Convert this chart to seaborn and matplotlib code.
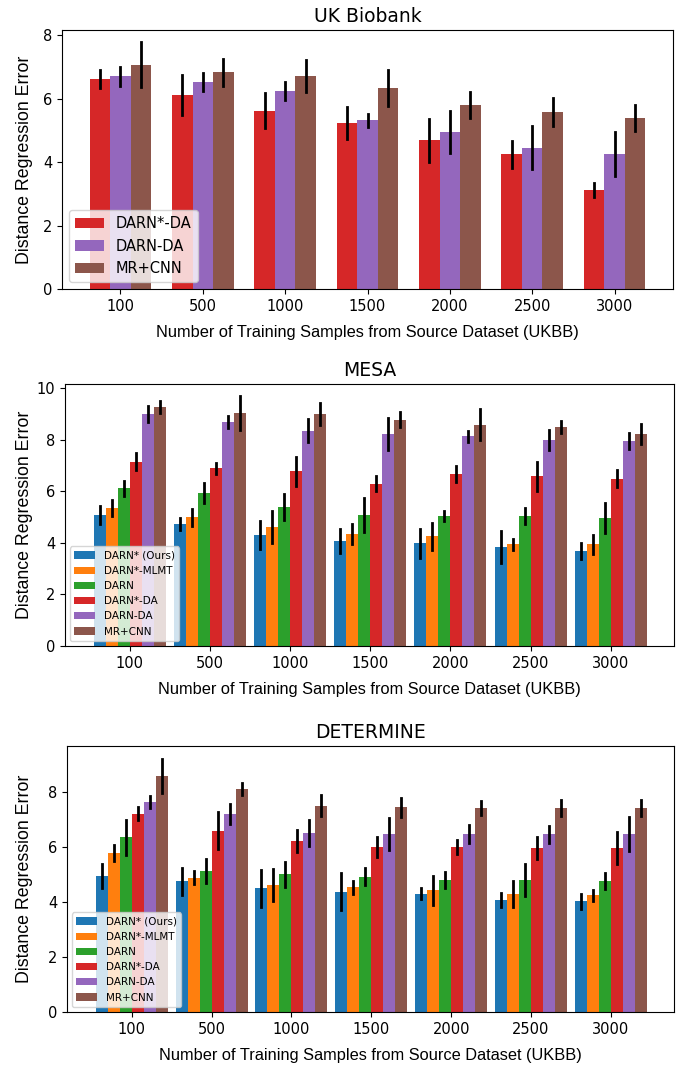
import numpy as np
import pandas as pd
import seaborn as sns
import matplotlib.pyplot as plt

# training set sizes (x axis categories)
n_samples = ["100", "500", "1000", "1500", "2000", "2500", "3000"]

methods_all = ["DARN* (Ours)", "DARN*-MLMT", "DARN", "DARN*-DA", "DARN-DA", "MR+CNN"]
methods_ukbb = ["DARN*-DA", "DARN-DA", "MR+CNN"]
colors_all = ["#1f77b4", "#ff7f0e", "#2ca02c", "#d62728", "#9467bd", "#8c564b"]
colors_ukbb = ["#d62728", "#9467bd", "#8c564b"]

# UK Biobank: rows = DARN*-DA, DARN-DA, MR+CNN
ukbb_mean = [
    [6.62, 6.10, 5.62, 5.24, 4.68, 4.24, 3.12],
    [6.70, 6.53, 6.24, 5.31, 4.94, 4.45, 4.25],
    [7.07, 6.83, 6.71, 6.34, 5.80, 5.57, 5.40],
]
ukbb_err = [
    [0.28, 0.63, 0.55, 0.50, 0.67, 0.42, 0.23],
    [0.29, 0.28, 0.28, 0.20, 0.67, 0.68, 0.69],
    [0.70, 0.43, 0.50, 0.57, 0.41, 0.45, 0.41],
]

# MESA: rows follow methods_all
mesa_mean = [
    [5.08, 4.74, 4.30, 4.07, 3.98, 3.84, 3.70],
    [5.35, 4.99, 4.61, 4.34, 4.25, 3.94, 3.94],
    [6.12, 5.94, 5.39, 5.08, 5.03, 5.03, 4.97],
    [7.14, 6.89, 6.77, 6.29, 6.66, 6.57, 6.48],
    [9.00, 8.67, 8.35, 8.22, 8.12, 7.99, 7.94],
    [9.27, 9.03, 9.00, 8.76, 8.58, 8.48, 8.22],
]
mesa_err = [
    [0.36, 0.23, 0.53, 0.47, 0.57, 0.62, 0.31],
    [0.32, 0.33, 0.62, 0.37, 0.52, 0.21, 0.36],
    [0.29, 0.39, 0.49, 0.67, 0.20, 0.32, 0.58],
    [0.33, 0.22, 0.57, 0.29, 0.31, 0.58, 0.33],
    [0.32, 0.23, 0.43, 0.62, 0.20, 0.38, 0.31],
    [0.23, 0.64, 0.43, 0.29, 0.61, 0.23, 0.38],
]

# DETERMINE: rows follow methods_all
det_mean = [
    [4.95, 4.77, 4.50, 4.38, 4.30, 4.08, 4.03],
    [5.80, 4.90, 4.64, 4.55, 4.43, 4.30, 4.25],
    [6.36, 5.15, 5.02, 4.93, 4.81, 4.81, 4.76],
    [7.22, 6.61, 6.23, 6.01, 6.01, 5.97, 5.97],
    [7.65, 7.21, 6.52, 6.48, 6.48, 6.48, 6.48],
    [8.60, 8.12, 7.51, 7.46, 7.43, 7.43, 7.43],
]
det_err = [
    [0.43, 0.49, 0.67, 0.68, 0.20, 0.26, 0.28],
    [0.30, 0.23, 0.58, 0.24, 0.53, 0.46, 0.21],
    [0.65, 0.44, 0.45, 0.32, 0.29, 0.58, 0.29],
    [0.24, 0.67, 0.40, 0.36, 0.27, 0.41, 0.57],
    [0.23, 0.36, 0.46, 0.58, 0.33, 0.31, 0.61],
    [0.63, 0.22, 0.38, 0.34, 0.24, 0.29, 0.29],
]


def long_table(means, errs, methods):
    # two rows per bar (mean - err, mean + err) so seaborn draws the bar at the
    # mean and the min/max interval as the error bar
    rows = []
    for m, mu_row, e_row in zip(methods, means, errs):
        for n, mu, e in zip(n_samples, mu_row, e_row):
            rows.append((n, m, mu - e))
            rows.append((n, m, mu + e))
    return pd.DataFrame(rows, columns=["n", "method", "error"])


panels = [
    ("UK Biobank", ukbb_mean, ukbb_err, methods_ukbb, colors_ukbb, 0.75,
     [62 / 689, 1 - 289 / 1067, 611 / 689, 259 / 1067], 10.5, -0.047, (-0.71, 6.71)),
    ("MESA", mesa_mean, mesa_err, methods_all, colors_all, 0.9,
     [65 / 689, 1 - 646 / 1067, 609 / 689, 262 / 1067], 7.5, -0.053, (-0.81, 6.79)),
    ("DETERMINE", det_mean, det_err, methods_all, colors_all, 0.9,
     [67 / 689, 1 - 1012 / 1067, 607 / 689, 266 / 1067], 7.5, -0.056, (-0.81, 6.79)),
]

fig = plt.figure(figsize=(6.89, 10.67), dpi=100)

for title, means, errs, methods, colors, width, rect, leg_fs, ylab_x, xlim in panels:
    ax = fig.add_axes(rect)
    df = long_table(means, errs, methods)
    sns.barplot(data=df, x="n", y="error", hue="method", order=n_samples,
                hue_order=methods, palette=colors, estimator="mean",
                errorbar=("pi", 100), width=width, saturation=1,
                err_kws={"color": "black", "linewidth": 2}, linewidth=0, ax=ax)
    ax.set_xlim(*xlim)
    ax.set_title(title, fontsize=13.5)
    ax.set_xlabel("Number of Training Samples from Source Dataset (UKBB)",
                  fontsize=11.8, family="Liberation Sans", labelpad=8)
    ax.set_ylabel("Distance Regression Error", fontsize=12.8, family="Liberation Sans")
    ax.yaxis.set_label_coords(ylab_x, 0.5)
    ax.tick_params(labelsize=10.5)
    handles, labels = ax.get_legend_handles_labels()
    ax.legend(handles, labels, loc="lower left", fontsize=leg_fs)

plt.savefig("out.png", dpi=100)
